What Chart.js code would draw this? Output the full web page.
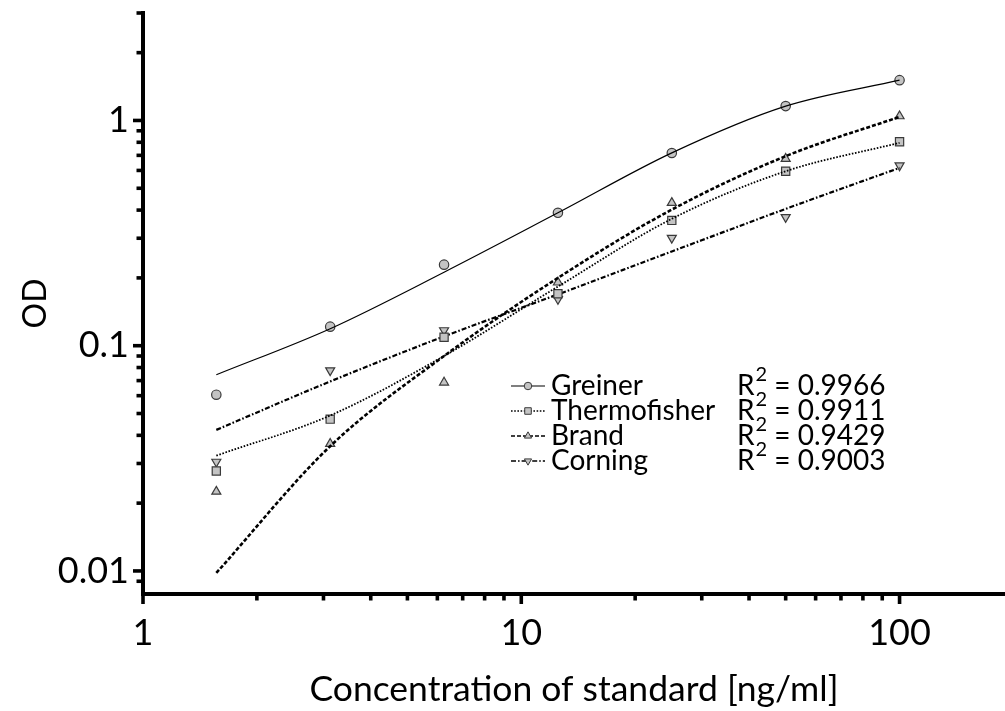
<!DOCTYPE html>
<html lang="en">
<head>
<meta charset="UTF-8" />
<title>OD standard curves</title>
<script src="https://cdn.jsdelivr.net/npm/chart.js"></script>
<style>
  html, body { margin: 0; padding: 0; background: #fff; }
  #wrap { width: 1005px; height: 711px; position: relative; overflow: hidden; }
</style>
</head>
<body>
<div id="wrap"><canvas id="odChart" width="1005" height="711"></canvas></div>
<script>
// measured points (concentration in ng/ml)
const concentrations = [1.5625, 3.125, 6.25, 12.5, 25, 50, 100];
const greinerOD = [0.0606, 0.1215, 0.229, 0.389, 0.717, 1.158, 1.51];
const thermoOD = [0.0278, 0.0472, 0.109, 0.170, 0.360, 0.595, 0.804];
const brandOD = [0.0225, 0.0367, 0.0687, 0.191, 0.431, 0.676, 1.045];
const corningOD = [0.0305, 0.0777, 0.117, 0.161, 0.301, 0.372, 0.631];

// fitted curves at the same concentrations
const greinerFit = [0.0743, 0.119, 0.212, 0.389, 0.718, 1.158, 1.51];
const thermoFit = [0.0325, 0.049, 0.090, 0.183, 0.366, 0.595, 0.796];
const brandFit = [0.0098, 0.0358, 0.090, 0.200, 0.402, 0.694, 1.038];
const corningFit = [0.0423, 0.0694, 0.110, 0.169, 0.262, 0.405, 0.616];

const seriesNames = ["Greiner", "Thermofisher", "Brand", "Corning"];
const rSquared = ["0.9966", "0.9911", "0.9429", "0.9003"];

const styles = [
  { dash: [], width: 1.2, point: "circle", rot: 0, r: 4.7 },
  { dash: [1.6, 1.6], width: 1.8, point: "rect", rot: 0, r: 5.8 },
  { dash: [4, 2], width: 2.6, point: "triangle", rot: 0, r: 5.2 },
  { dash: [5, 2, 1.6, 2], width: 2.2, point: "triangle", rot: 180, r: 5.2 },
];
const measured = [greinerOD, thermoOD, brandOD, corningOD];
const fitted = [greinerFit, thermoFit, brandFit, corningFit];

const markerFill = "#c4c4c4";
const markerEdge = "#3a3a3a";

const datasets = [];
seriesNames.forEach((name, i) => {
  datasets.push({
    type: "line",
    label: name + " fit",
    data: concentrations.map((x, j) => ({ x: x, y: fitted[i][j] })),
    borderColor: "#000",
    borderWidth: styles[i].width,
    borderDash: styles[i].dash,
    pointRadius: 0,
    cubicInterpolationMode: "monotone",
    fill: false,
  });
  datasets.push({
    type: "scatter",
    label: name,
    data: concentrations.map((x, j) => ({ x: x, y: measured[i][j] })),
    pointStyle: styles[i].point,
    rotation: styles[i].rot,
    pointRadius: styles[i].r,
    backgroundColor: markerFill,
    borderColor: markerEdge,
    borderWidth: 1.2,
    showLine: false,
  });
});

function powLabel(v) {
  const l = Math.log10(v);
  return Math.abs(l - Math.round(l)) < 1e-9 ? String(v) : "";
}

function noPadding(s) {
  s.paddingTop = 0;
  s.paddingBottom = 0;
  s.paddingLeft = 0;
  s.paddingRight = 0;
}

// draws major/minor tick marks outside the axes
const tickMarks = {
  id: "tickMarks",
  afterDraw(chart) {
    const ctx = chart.ctx;
    const area = chart.chartArea;
    ctx.save();
    ctx.strokeStyle = "#000";
    ctx.lineWidth = 3.6;
    ["x", "y"].forEach((id) => {
      const scale = chart.scales[id];
      scale.ticks.forEach((t) => {
        const v = t.value;
        const e = Math.floor(Math.log10(v) + 1e-9);
        const m = v / Math.pow(10, e);
        if (Math.abs(m - Math.round(m)) > 1e-6) return;
        const len = Math.round(m) === 1 ? 10 : 6.5;
        const p = scale.getPixelForValue(v);
        ctx.beginPath();
        if (id === "x") {
          ctx.moveTo(p, area.bottom);
          ctx.lineTo(p, area.bottom + len);
        } else {
          ctx.moveTo(area.left, p);
          ctx.lineTo(area.left - len, p);
        }
        ctx.stroke();
      });
    });
    ctx.restore();
  },
};

// legend with R² column
const fitLegend = {
  id: "fitLegend",
  afterDraw(chart) {
    const ctx = chart.ctx;
    const rowY = [386, 411, 436, 461];
    ctx.save();
    seriesNames.forEach((name, i) => {
      const y = rowY[i];
      const st = styles[i];
      ctx.strokeStyle = "#000";
      ctx.lineWidth = Math.min(st.width, 1.6);
      ctx.setLineDash(st.dash);
      ctx.beginPath();
      ctx.moveTo(511, y);
      ctx.lineTo(545, y);
      ctx.stroke();
      ctx.setLineDash([]);
      ctx.fillStyle = markerFill;
      ctx.strokeStyle = markerEdge;
      ctx.lineWidth = 1;
      Chart.helpers.drawPoint(ctx, { pointStyle: st.point, rotation: st.rot, radius: st.r * 0.8, borderWidth: 1 }, 528, y);

      ctx.fillStyle = "#000";
      ctx.textBaseline = "middle";
      ctx.textAlign = "left";
      ctx.font = "28px Lato";
      ctx.fillText(name, 551, y);
      let x = 737;
      ctx.fillText("R", x, y);
      x += ctx.measureText("R").width;
      ctx.font = "20px Lato";
      ctx.fillText("2", x + 1, y - 11);
      x += ctx.measureText("2").width + 1;
      ctx.font = "28px Lato";
      ctx.fillText(" = " + rSquared[i], x, y);
    });
    ctx.restore();
  },
};

new Chart(document.getElementById("odChart"), {
  data: { datasets: datasets },
  options: {
    responsive: false,
    animation: false,
    layout: { autoPadding: false, padding: { top: 13, left: 0, right: 0, bottom: 0 } },
    plugins: { legend: { display: false }, tooltip: { enabled: false } },
    scales: {
      x: {
        type: "logarithmic",
        min: 1,
        max: 190,
        border: { display: true, color: "#000", width: 4 },
        grid: { display: false, drawTicks: false },
        ticks: {
          autoSkip: false,
          maxRotation: 0,
          padding: 18,
          color: "#000",
          font: { family: "Lato", size: 36 },
          callback: powLabel,
        },
        title: {
          display: true,
          text: "Concentration of standard [ng/ml]",
          color: "#000",
          font: { family: "Lato", size: 35.5 },
          padding: { top: 0, bottom: 0 },
        },
        afterFit: (s) => { s.height = 117; noPadding(s); },
      },
      y: {
        type: "logarithmic",
        min: 0.0079,
        max: 3,
        border: { display: true, color: "#000", width: 4 },
        grid: { display: false, drawTicks: false },
        ticks: {
          autoSkip: false,
          padding: 14,
          color: "#000",
          font: { family: "Lato", size: 36 },
          callback: powLabel,
        },
        title: {
          display: true,
          text: "OD",
          color: "#000",
          font: { family: "Lato", size: 32 },
          padding: { top: 16, bottom: 0 },
        },
        afterFit: (s) => { s.width = 143; noPadding(s); },
      },
    },
  },
  plugins: [tickMarks, fitLegend],
});
</script>
</body>
</html>
